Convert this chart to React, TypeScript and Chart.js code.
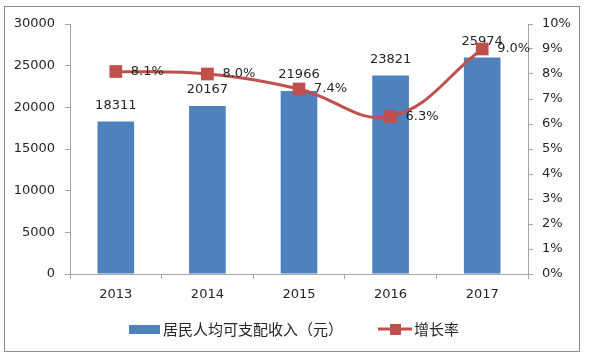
import React, { useEffect, useRef } from "react";
import { Chart, registerables } from "chart.js";

Chart.register(...registerables);

const years = ["2013", "2014", "2015", "2016", "2017"];
const income = [18311, 20167, 21966, 23821, 25974];
const growth = [8.1, 8.0, 7.4, 6.3, 9.0];
const growthLabels = ["8.1%", "8.0%", "7.4%", "6.3%", "9.0%"];
const incomeName = "居民人均可支配收入（元）";
const growthName = "增长率";

const BAR = "#4F81BD";
const LINE = "#C0504D";
const TEXT = "#262626";
const AXIS = "#A6A6A6";
const NUM_FONT = "13px 'DejaVu Sans', sans-serif";
const CJK_FONT = "15px 'Noto Sans CJK SC', sans-serif";

const labelsPlugin = {
  id: "labelsPlugin",
  afterDatasetDraw(chart: any, args: any) {
    if (args.index !== 0) return;
    const ctx = chart.ctx;
    const meta = chart.getDatasetMeta(0);
    ctx.save();
    ctx.font = NUM_FONT;
    ctx.fillStyle = TEXT;
    ctx.textAlign = "center";
    ctx.textBaseline = "middle";
    meta.data.forEach((el: any, i: number) => {
      ctx.fillText(String(income[i]), el.x, el.y - 16);
    });
    ctx.restore();
  },
  afterDatasetsDraw(chart: any) {
    const ctx = chart.ctx;
    const meta = chart.getDatasetMeta(1);
    ctx.save();
    ctx.font = NUM_FONT;
    ctx.fillStyle = TEXT;
    ctx.textAlign = "left";
    ctx.textBaseline = "middle";
    meta.data.forEach((el: any, i: number) => {
      ctx.fillText(growthLabels[i], el.x + 15, el.y);
    });
    ctx.restore();
  },
  afterDraw(chart: any) {
    const ctx = chart.ctx;
    ctx.save();
    const ly = 329;
    ctx.fillStyle = BAR;
    ctx.fillRect(129, 325, 31, 9);
    ctx.font = CJK_FONT;
    ctx.fillStyle = TEXT;
    ctx.textAlign = "left";
    ctx.textBaseline = "middle";
    ctx.fillText(incomeName, 163, ly);
    ctx.strokeStyle = LINE;
    ctx.lineWidth = 3;
    ctx.beginPath();
    ctx.moveTo(378, ly);
    ctx.lineTo(412, ly);
    ctx.stroke();
    ctx.fillStyle = LINE;
    ctx.fillRect(390, ly - 5, 11, 11);
    ctx.fillStyle = TEXT;
    ctx.fillText(growthName, 414, ly);
    ctx.restore();
  },
};

export default function App() {
  const ref = useRef<HTMLCanvasElement>(null);
  useEffect(() => {
    if (!ref.current) return;
    const chart = new Chart(ref.current, {
      data: {
        labels: years,
        datasets: [
          {
            type: "bar",
            label: incomeName,
            data: income,
            backgroundColor: BAR,
            yAxisID: "y",
            order: 1,
            categoryPercentage: 1,
            barPercentage: 0.4,
          },
          {
            type: "line",
            label: growthName,
            data: growth,
            borderColor: LINE,
            backgroundColor: LINE,
            borderWidth: 3,
            pointStyle: "rect",
            pointRadius: 9,
            pointBorderWidth: 0,
            pointBackgroundColor: LINE,
            tension: 0.4,
            yAxisID: "y1",
            order: 0,
          },
        ],
      } as any,
      options: {
        responsive: false,
        animation: false,
        layout: { padding: { top: 24, left: 0, right: 0, bottom: 0 } },
        plugins: { legend: { display: false }, tooltip: { enabled: false } },
        scales: {
          x: {
            offset: true,
            grid: {
              offset: true,
              drawOnChartArea: false,
              color: AXIS,
              tickLength: 5,
            },
            border: { color: AXIS },
            ticks: { color: TEXT, font: { family: "'DejaVu Sans', sans-serif", size: 13 }, padding: 8 },
            afterFit(scale: any) {
              scale.height = 88;
            },
          },
          y: {
            position: "left",
            min: 0,
            max: 30000,
            ticks: {
              stepSize: 5000,
              color: TEXT,
              font: { family: "'DejaVu Sans', sans-serif", size: 13 },
              padding: 10,
              callback: (v: any) => String(v),
            },
            grid: { drawOnChartArea: false, color: AXIS, tickLength: 5 },
            border: { color: AXIS },
            afterFit(scale: any) {
              scale.width = 70;
            },
          },
          y1: {
            position: "right",
            min: 0,
            max: 10,
            ticks: {
              stepSize: 1,
              color: TEXT,
              font: { family: "'DejaVu Sans', sans-serif", size: 13 },
              padding: 9,
              callback: (v: any) => v + "%",
            },
            grid: { drawOnChartArea: false, color: AXIS, tickLength: 5 },
            border: { color: AXIS },
            afterFit(scale: any) {
              scale.width = 62;
            },
          },
        },
      } as any,
      plugins: [labelsPlugin],
    });
    return () => chart.destroy();
  }, []);
  return (
    <div style={{ position: "absolute", left: 0, top: 0, width: 590, height: 362, background: "#fff" }}>
      <div
        style={{
          position: "absolute",
          left: 4,
          top: 6,
          width: 576,
          height: 346,
          border: "1px solid #8C8C8C",
          boxSizing: "border-box",
        }}
      />
      <canvas ref={ref} width={590} height={362} style={{ position: "absolute", left: 0, top: 0 }} />
    </div>
  );
}
